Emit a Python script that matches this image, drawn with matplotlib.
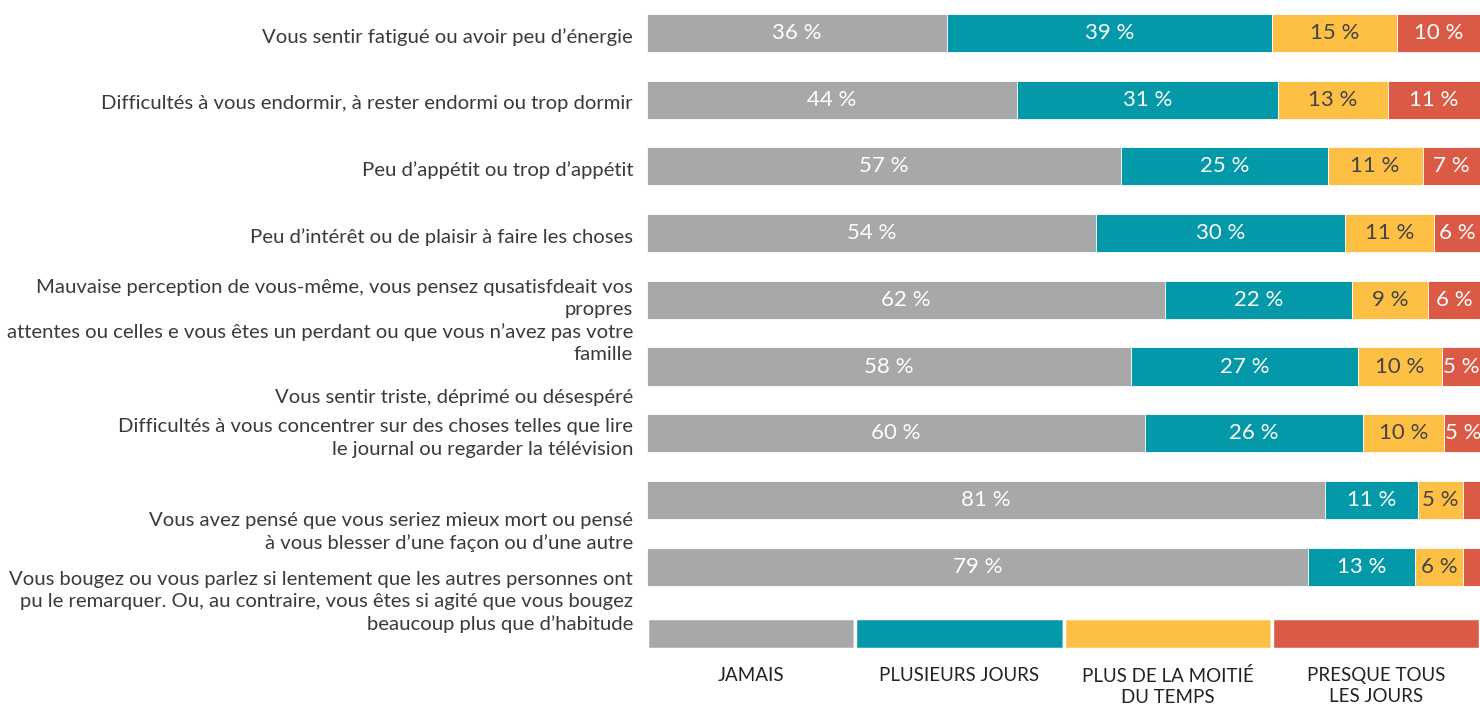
import numpy as np
import matplotlib
matplotlib.use("Agg")
import matplotlib.pyplot as plt
from matplotlib.transforms import blended_transform_factory

plt.rcParams["font.family"] = ["Lato", "DejaVu Sans"]

# ── data ──────────────────────────────────────────────────────────────────────
questions = [
    "Vous sentir fatigué ou avoir peu d’énergie",
    "Difficultés à vous endormir, à rester endormi ou trop dormir",
    "Peu d’appétit ou trop d’appétit",
    "Peu d’intérêt ou de plaisir à faire les choses",
    "Mauvaise perception de vous-même, vous pensez qusatisfdeait vos\npropres\n"
    "attentes ou celles e vous êtes un perdant ou que vous n’avez pas votre\nfamille",
    "Vous sentir triste, déprimé ou désespéré",
    "Difficultés à vous concentrer sur des choses telles que lire\n"
    "le journal ou regarder la télévision",
    "Vous avez pensé que vous seriez mieux mort ou pensé\n"
    "à vous blesser d’une façon ou d’une autre",
    "Vous bougez ou vous parlez si lentement que les autres personnes ont\n"
    "pu le remarquer. Ou, au contraire, vous êtes si agité que vous bougez\n"
    "beaucoup plus que d’habitude",
]

jamais    = [36.0, 44.4, 56.9, 53.9, 62.2, 58.1, 59.8, 81.4, 79.4]
plusieurs = [39.0, 31.3, 24.8, 29.9, 22.4, 27.3, 26.1, 11.2, 12.8]
moitie    = [15.0, 13.3, 11.4, 10.7,  9.2, 10.0,  9.8,  5.3,  5.8]
presque   = [10.0, 11.0,  6.9,  5.5,  6.2,  4.6,  4.6,  2.1,  2.0]

categories = ["JAMAIS", "PLUSIEURS JOURS", "PLUS DE LA MOITIÉ\nDU TEMPS",
              "PRESQUE TOUS\nLES JOURS"]
colors = ["#a7a8aa", "#0399a8", "#fec044", "#da5a45"]
text_colors = ["white", "white", "#444444", "white"]

# where each question label sits (pixel centre from top, the source is uneven)
label_y_px = [37, 104, 170, 237, 321, 397, 438, 532, 602]

# ── figure ────────────────────────────────────────────────────────────────────
W, H = 1480, 705
fig = plt.figure(figsize=(W / 100, H / 100), dpi=100)
ax = fig.add_axes([647 / W, 0, 1 - 647 / W, 1])
ax.set_axis_off()

row_px = 66.7
first_px = 33
ax.set_xlim(0, 100)
ax.set_ylim((H - first_px) / row_px, -first_px / row_px)

series = [jamais, plusieurs, moitie, presque]
ypos = np.arange(len(questions))
left = np.zeros(len(questions))
for vals, col, tcol in zip(series, colors, text_colors):
    vals = np.array(vals)
    ax.barh(ypos, vals, left=left, height=0.57, color=col,
            edgecolor="white", linewidth=0.6)
    for y, l, v in zip(ypos, left, vals):
        if v >= 4:
            ax.text(l + v / 2, y, f"{v:.0f} %", ha="center", va="center",
                    color=tcol, fontsize=16)
    left += vals

# question labels
trans = blended_transform_factory(ax.transAxes, ax.transData)
for q, py in zip(questions, label_y_px):
    ax.text(-14 / 833, (py - first_px) / row_px, q, transform=trans,
            ha="right", va="center", fontsize=14.6, color="#3a3a3a",
            linespacing=1.36, clip_on=False)

# legend row built as a 10th bar
leg_y = len(questions)
ax.barh([leg_y] * 4, [25] * 4, left=[0, 25, 50, 75], height=0.47,
        color=colors, edgecolor="white", linewidth=2.5)
for i, cat in enumerate(categories):
    ax.text(12.5 + 25 * i, leg_y + 0.5, cat, ha="center", va="top",
            fontsize=13.5, color="#222222", linespacing=1.3)

fig.savefig("out.png", dpi=100)
